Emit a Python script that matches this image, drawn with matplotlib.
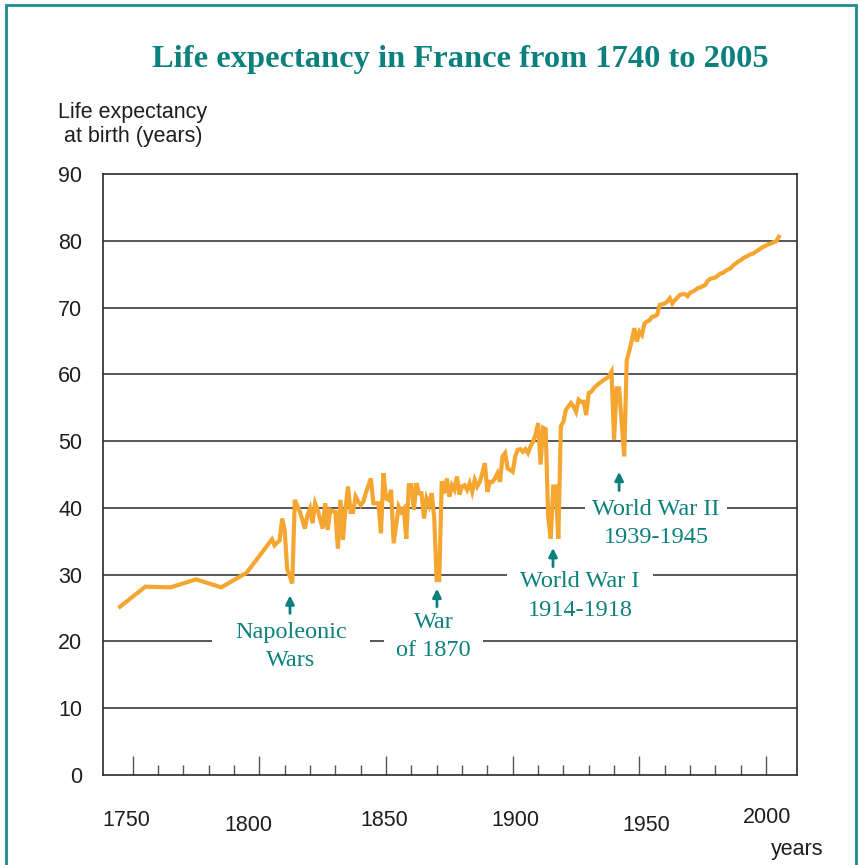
import matplotlib
matplotlib.use("Agg")
import matplotlib.pyplot as plt
import matplotlib.transforms as mtransforms
from matplotlib.patches import Rectangle

plt.rcParams["font.family"] = ["Liberation Sans", "DejaVu Sans"]

# ---------------- data ----------------
early_years = [1745, 1755, 1765, 1775, 1785, 1795]
early_values = [25.2, 28.2, 28.1, 29.3, 28.1, 30.3]

years_1805_1871 = list(range(1805, 1872))
values_1805_1871 = [
    35.3, 34.4, 34.8, 35.1, 38.4, 36.7, 30.8, 29.8, 28.7, 41.2,   # 1805-1814
    40.3, 39.4, 38.2, 36.9, 38.9, 39.9, 37.7, 40.7, 39.7, 38.3,   # 1815-1824
    36.9, 40.7, 36.7, 39.7, 39.5, 39.4, 33.9, 41.2, 35.2, 39.9,   # 1825-1834
    43.2, 39.4, 39.4, 41.7, 41.0, 40.4, 40.9, 42.2, 43.3, 44.4,   # 1835-1844
    40.7, 40.7, 40.7, 36.2, 45.2, 41.4, 41.2, 42.7, 34.7, 37.5,   # 1845-1854
    40.2, 39.4, 39.9, 35.4, 43.4, 43.4, 39.7, 43.7, 42.2, 42.2,   # 1855-1864
    38.4, 41.4, 40.4, 42.2, 38.7, 29.2, 29.2,                     # 1865-1871
]

years_1872_1944 = list(range(1872, 1945))
values_1872_1944 = [
    44.0, 42.2, 44.4, 41.7, 43.4, 42.7, 44.7, 42.0,               # 1872-1879
    43.2, 43.4, 42.7, 43.7, 42.4, 44.2, 43.2, 43.9, 45.2, 46.7,   # 1880-1889
    42.4, 43.9, 43.9, 44.4, 45.2, 43.9, 47.7, 48.2, 45.9, 45.7,   # 1890-1899
    45.4, 47.7, 48.7, 48.8, 48.4, 48.8, 48.2, 49.2, 49.9, 50.9,   # 1900-1909
    52.7, 46.5, 52.0, 51.8, 38.7, 35.4, 43.2, 43.2, 35.4, 52.2,   # 1910-1919
    52.9, 54.7, 55.2, 55.7, 55.2, 54.4, 56.2, 55.9, 55.9, 53.9,   # 1920-1929
    57.2, 57.4, 57.9, 58.3, 58.6, 58.9, 59.2, 59.4, 59.7, 60.4,   # 1930-1939
    50.2, 57.9, 57.9, 52.8, 47.7,                                 # 1940-1944
]

years_1945_2005 = list(range(1945, 2006))
values_1945_2005 = [
    62.1, 63.5, 65.1, 66.9, 64.9,                                 # 1945-1949
    66.4, 65.9, 67.6, 67.9, 68.1, 68.6, 68.7, 68.9, 70.4, 70.5,   # 1950-1959
    70.6, 70.9, 71.4, 70.6, 71.1, 71.5, 71.9, 72.0, 72.0, 71.7,   # 1960-1969
    72.2, 72.4, 72.6, 72.9, 73.0, 73.2, 73.4, 74.0, 74.3, 74.4,   # 1970-1979
    74.5, 74.8, 75.1, 75.2, 75.5, 75.7, 75.9, 76.3, 76.6, 76.9,   # 1980-1989
    77.1, 77.4, 77.6, 77.8, 78.0, 78.1, 78.4, 78.6, 78.9, 79.1,   # 1990-1999
    79.3, 79.5, 79.6, 79.8, 79.9, 80.6,                           # 2000-2005
]

years = early_years + years_1805_1871 + years_1872_1944 + years_1945_2005
values = early_values + values_1805_1871 + values_1872_1944 + values_1945_2005

major_ticks = [1750, 1800, 1850, 1900, 1950, 2000]
major_labels = ["1750", "1800", "1850", "1900", "1950", "2000"]
minor_ticks = [y for y in range(1760, 2000, 10) if y % 50 != 0]
y_ticks = [0, 10, 20, 30, 40, 50, 60, 70, 80, 90]

events = ["Napoleonic\nWars", "War\nof 1870", "World War I\n1914-1918", "World War II\n1939-1945"]

# ---------------- style ----------------
TEAL = "#0b807d"
ORANGE = "#f4a630"
DARK = "#1e1e1e"
W, H = 860, 865

fig = plt.figure(figsize=(W / 100, H / 100), dpi=100)
ax = fig.add_axes([103 / W, 90 / H, 694 / W, 601 / H])

ax.plot(years, values, color=ORANGE, lw=3.0, solid_joinstyle="miter", zorder=3)

ax.set_xlim(1738.3, 2012.2)
ax.set_ylim(0, 90)

ax.set_yticks(y_ticks)
ax.set_yticklabels([str(v) for v in y_ticks])
ax.tick_params(axis="y", length=0, pad=15, labelsize=15.5, labelcolor=DARK)
for v in y_ticks[1:-1]:
    ax.axhline(v, color="#3a3a3a", lw=1.2, zorder=1)

ax.set_xticks(major_ticks)
ax.set_xticklabels(major_labels)
ax.set_xticks(minor_ticks, minor=True)
ax.tick_params(axis="x", which="major", direction="in", length=14, width=1.0,
               color="#555555", pad=25, labelsize=15.5, labelcolor=DARK)
ax.tick_params(axis="x", which="minor", direction="in", length=7, width=1.0,
               color="#555555")
# staggered label heights as in the reference
label_shift_px = [(-6, 0), (-11, -5), (-2, 0), (3, 0), (7, -5), (1, 3)]
for lab, (dx, dy) in zip(ax.get_xticklabels(), label_shift_px):
    off = mtransforms.ScaledTranslation(dx / 100, dy / 100, fig.dpi_scale_trans)
    lab.set_transform(lab.get_transform() + off)

for s in ax.spines.values():
    s.set_color("#2a2a2a")
    s.set_linewidth(1.2)

# annotations
text_pos = [(1812.5, 19.3), (1868.7, 20.8), (1926.6, 26.8), (1956.6, 37.7)]
box_pad = [0.95, 0.5, 0.55, 0.3]
arrow_tip = [(1812.1, 26.9), (1870.1, 27.9), (1915.9, 34.0), (1942.0, 45.4)]
arrow_tail = [(1812.1, 24.2), (1870.1, 25.2), (1915.9, 31.2), (1942.0, 42.6)]

for txt, (tx, ty), pad in zip(events, text_pos, box_pad):
    ax.text(tx, ty, txt, ha="center", va="center", color=TEAL,
            family="Liberation Serif", fontsize=17.5, linespacing=1.45, zorder=4,
            bbox=dict(boxstyle=f"square,pad={pad}", fc="white", ec="none"))
for (hx, hy), (tx, ty) in zip(arrow_tip, arrow_tail):
    ax.annotate("", xy=(hx, hy), xytext=(tx, ty), zorder=5,
                arrowprops=dict(arrowstyle="-|>,head_length=0.5,head_width=0.25",
                                color=TEAL, lw=2.0, shrinkA=0, shrinkB=0))

# title and axis texts
fig.text(460 / W, 1 - 59 / H, "Life expectancy in France from 1740 to 2005",
         ha="center", va="center", color=TEAL, family="Liberation Serif",
         fontweight="bold", fontsize=23.4)
fig.text(58 / W, 1 - 124.5 / H, "Life expectancy\n at birth (years)", ha="left",
         va="center", fontsize=15.5, color=DARK, linespacing=1.15)
fig.text(797 / W, 1 - 849 / H, "years", ha="center", va="center", fontsize=15.5,
         color=DARK)

# teal frame
fig.patches.append(Rectangle((6 / W, -0.05), (W - 10) / W, 1.05 - 5 / H,
                             transform=fig.transFigure, fill=False,
                             ec="#1d8c8a", lw=2.0))

fig.savefig("out.png", dpi=100)
